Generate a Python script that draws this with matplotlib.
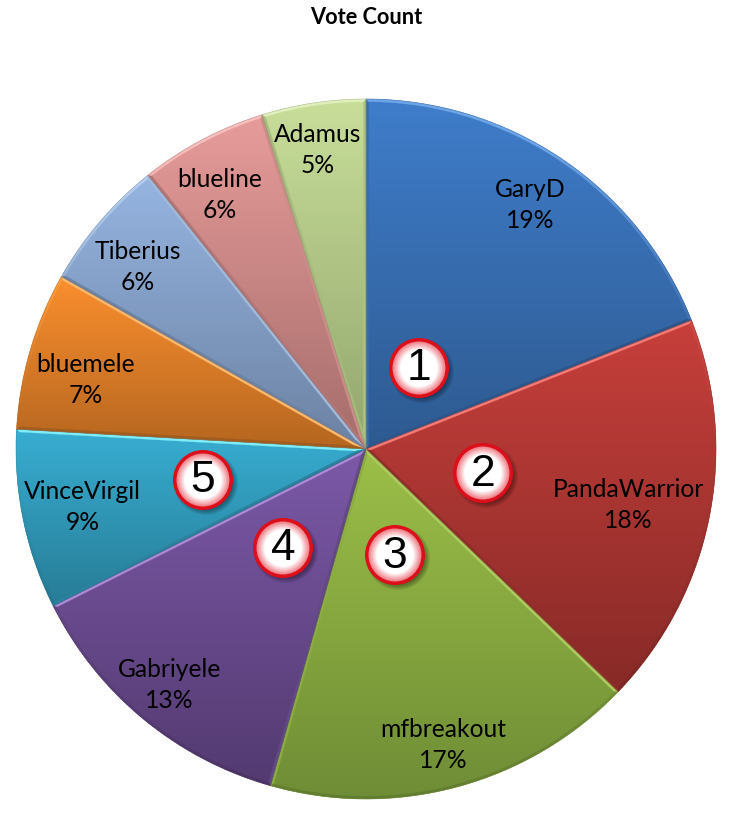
"""Vote count pie chart with bevelled gradient wedges and numbered badges."""

import matplotlib
matplotlib.use('Agg')
import matplotlib.pyplot as plt
from matplotlib.collections import PolyCollection
from matplotlib.colors import LinearSegmentedColormap, to_rgb
from matplotlib.patches import Circle, Wedge
import numpy as np

names = ['GaryD', 'PandaWarrior', 'mfbreakout', 'Gabriyele', 'VinceVirgil',
         'bluemele', 'Tiberius', 'blueline', 'Adamus']
shares = [19.0, 18.2, 17.2, 13.2, 8.3, 7.3, 6.1, 5.9, 4.8]
pct_labels = ['19%', '18%', '17%', '13%', '9%', '7%', '6%', '6%', '5%']

top_colors = ['#3F7DCB', '#C73F3B', '#9CBF48', '#7C59A8', '#38AED2',
              '#FB8F2E', '#96B5E2', '#E79C9A', '#C8DE99']
bottom_colors = ['#2E5A90', '#872A27', '#6F8D36', '#533A70', '#277C96',
                 '#B56620', '#6C82A2', '#A56D6B', '#92A66D']
edge_light = ['#6FA6E8', '#F87A74', '#BEDC6E', '#AD8AD6', '#7FEEFA',
              '#FFBA6E', '#C2D8F4', '#F8C0BE', '#E2F0C0']

label_radius = [0.84, 0.766, 0.874, 0.876, 0.826, 0.824, 0.834, 0.838, 0.866]
label_turn = [0.3, -0.9, -0.5, -0.2, -0.2, 2.5, 1.9, 2.1, 0.5]

badge_numbers = ['1', '2', '3', '4', '5']
badge_x = [419, 483, 395, 283, 203]
badge_y = [368, 473, 555, 548, 480]

W, H = 734, 816
CX, CY, R = 366, 449, 350
BEVEL = 2.6


def bevel_quads(theta1, theta2, cx, cy):
    """Quads of the bevel band around one wedge, with each outward normal."""
    t1, t2 = np.radians([theta1, theta2])
    half = (t2 - t1) / 2
    apex = np.array([cx, cy])
    inner_apex = apex + BEVEL / np.sin(half) * np.array([np.cos(t1 + half), np.sin(t1 + half)])
    r_in = R - BEVEL
    skew = np.arcsin(BEVEL / r_in)

    def outer(t):
        return apex + R * np.array([np.cos(t), np.sin(t)])

    def inner(t):
        return apex + r_in * np.array([np.cos(t), np.sin(t)])

    quads, normals = [], []
    # straight sides
    quads.append([apex, outer(t1), inner(t1 + skew), inner_apex])
    normals.append((np.sin(t1), -np.cos(t1)))
    quads.append([apex, outer(t2), inner(t2 - skew), inner_apex])
    normals.append((-np.sin(t2), np.cos(t2)))
    # outer arc
    n = max(8, int((t2 - t1) * R / 6))
    outs = np.linspace(t1, t2, n + 1)
    ins = np.linspace(t1 + skew, t2 - skew, n + 1)
    for k in range(n):
        quads.append([outer(outs[k]), outer(outs[k + 1]), inner(ins[k + 1]), inner(ins[k])])
        tm = (outs[k] + outs[k + 1]) / 2
        normals.append((np.cos(tm), np.sin(tm)))
    return quads, normals


fig = plt.figure(figsize=(W / 100, H / 100), dpi=100)
ax = fig.add_axes([0, 0, 1, 1])

wedges, _ = ax.pie(shares, startangle=90, counterclock=False, radius=R,
                   center=(CX, H - CY), frame=True,
                   wedgeprops={'linewidth': 0, 'facecolor': 'none'})
ax.set_xlim(0, W)
ax.set_ylim(0, H)
ax.set_aspect('equal')
ax.axis('off')

for i, w in enumerate(wedges):
    # vertical gradient over the wedge's own height, clipped to the wedge
    a = np.radians([w.theta1, w.theta2])
    angles = np.linspace(a[0], a[1], 60)
    ys = np.concatenate([[H - CY], H - CY + R * np.sin(angles)])
    y0, y1 = ys.min(), ys.max()
    low, high = np.array(to_rgb(bottom_colors[i])), np.array(to_rgb(top_colors[i]))
    cmap = LinearSegmentedColormap.from_list('w%d' % i, [low, high])
    grad = np.linspace(1, 0, 256).reshape(-1, 1)
    im = ax.imshow(grad, extent=(CX - R, CX + R, y0, y1), cmap=cmap,
                   origin='upper', aspect='auto', zorder=1)
    im.set_clip_path(w)

    # bevel band, lit from above
    quads, normals = bevel_quads(w.theta1, w.theta2, CX, H - CY)
    light = np.array(to_rgb(edge_light[i]))
    cols = []
    for q, (nx, ny) in zip(quads, normals):
        ym = np.mean([p[1] for p in q])
        base = low + (high - low) * (ym - y0) / (y1 - y0)
        if ny > 0:
            cols.append(base + (light - base) * min(1, ny ** 2 * 1.3))
        else:
            cols.append(base * (1 + 0.12 * ny))
    ax.add_collection(PolyCollection(quads, facecolors=cols, edgecolors=cols,
                                     linewidths=0.2, zorder=2))
    outline = Wedge((CX, H - CY), R, w.theta1, w.theta2, facecolor='none',
                    edgecolor=bottom_colors[i], linewidth=0.5, alpha=0.5, zorder=3)
    ax.add_patch(outline)

    mid = np.radians((w.theta1 + w.theta2) / 2 + label_turn[i])
    lx = CX + label_radius[i] * R * np.cos(mid)
    ly = H - CY + label_radius[i] * R * np.sin(mid)
    ax.text(lx, ly, names[i] + '\n' + pct_labels[i], ha='center', va='center',
            family='Lato', fontsize=17.7, color='black', linespacing=1.42, zorder=4)

# numbered badges
for num, bx, by in zip(badge_numbers, badge_x, badge_y):
    yy = H - by
    for k in range(8):
        ax.add_patch(Circle((bx + 3, yy - 3), 32 - k, facecolor='black',
                            edgecolor='none', alpha=0.07, zorder=5))
    ax.add_patch(Circle((bx, yy), 30, facecolor='#DC0F1A', edgecolor='none', zorder=6))
    steps = 14
    for k in range(steps):
        t = k / (steps - 1)
        col = np.array(to_rgb('#EE8088')) * (1 - t) + np.array([1, 1, 1]) * t
        ax.add_patch(Circle((bx, yy), 26.5 - 8 * t, facecolor=col, edgecolor='none', zorder=7))
    ax.text(bx, yy - 1, num, ha='center', va='center', family='Liberation Sans',
            fontsize=32, color='black', zorder=8)

ax.text(W / 2 - 1, H - 17, 'Vote Count', ha='center', va='center', family='Lato',
        fontsize=15.7, fontweight='bold', color='black')

fig.savefig('out.png', dpi=100)
